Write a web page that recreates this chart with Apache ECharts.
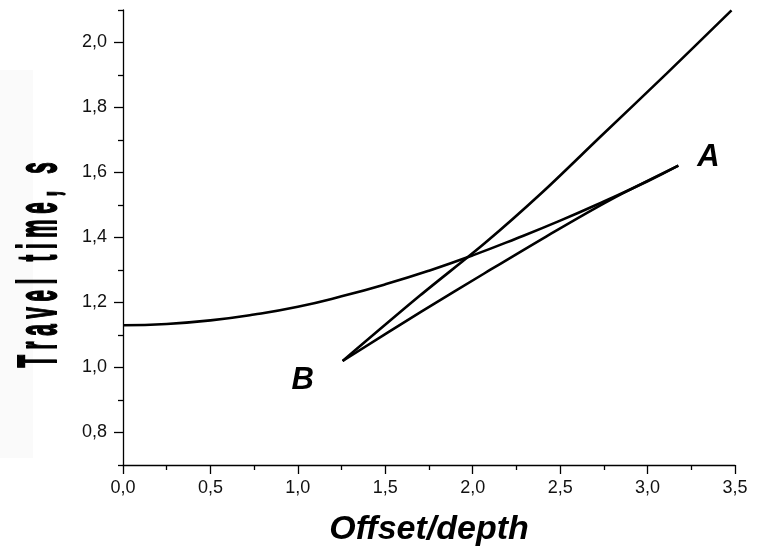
<!DOCTYPE html>
<html>
<head>
<meta charset="utf-8">
<script src="https://cdn.jsdelivr.net/npm/echarts@6/dist/echarts.min.js"></script>
<style>
html,body{margin:0;padding:0;background:#fff;}
#chart{width:763px;height:549px;}
</style>
</head>
<body>
<div id="chart"></div>
<script>
// Tick values and labels
const xTickValues = [0, 0.5, 1.0, 1.5, 2.0, 2.5, 3.0, 3.5];
const xTickLabels = ['0,0', '0,5', '1,0', '1,5', '2,0', '2,5', '3,0', '3,5'];
const yMajorValues = [0.8, 1.0, 1.2, 1.4, 1.6, 1.8, 2.0];
const yMajorLabels = ['0,8', '1,0', '1,2', '1,4', '1,6', '1,8', '2,0'];
const yMinorValues = [0.7, 0.9, 1.1, 1.3, 1.5, 1.7, 1.9, 2.1];

// Hyperbola (reflection travel-time curve)
const hypX = [0, 0.25, 0.5, 0.75, 1.0, 1.25, 1.5, 1.75, 2.0, 2.25, 2.5, 2.75, 3.0, 3.176];
const hypY = [1.130, 1.134, 1.145, 1.163, 1.187, 1.219, 1.256, 1.298, 1.345, 1.397, 1.452, 1.511, 1.573, 1.621];

// Steep line from B to top right
const steepX = [1.256, 1.70, 2.07, 2.40, 2.73, 3.11, 3.48];
const steepY = [1.020, 1.222, 1.383, 1.540, 1.710, 1.905, 2.099];

// Chord from B to A
const chordX = [1.256, 1.706, 2.068, 2.42, 2.785, 3.176];
const chordY = [1.020, 1.172, 1.290, 1.403, 1.515, 1.621];

// Point labels
const pointNames = ['A', 'B'];
const pointX = [3.176, 1.256];
const pointY = [1.621, 1.020];

const zip = (xs, ys) => xs.map((x, i) => [x, ys[i]]);

const FONT = '"Liberation Sans", Arial, sans-serif';

const chart = echarts.init(document.getElementById('chart'));
chart.setOption({
  animation: false,
  backgroundColor: '#fff',
  grid: {left: 123, right: 28, top: 10, bottom: 84, containLabel: false, outerBoundsMode: 'none'},
  xAxis: {
    type: 'value', min: 0, max: 3.5, interval: 0.5,
    axisLine: {show: true, onZero: false, lineStyle: {color: '#000', width: 1.3}},
    axisTick: {show: true, length: 9, lineStyle: {color: '#000', width: 1.3}},
    minorTick: {show: true, splitNumber: 2, length: 5, lineStyle: {color: '#000', width: 1.3}},
    splitLine: {show: false},
    axisLabel: {margin: 14, fontFamily: FONT, fontSize: 18, color: '#111', formatter: v => {
      const i = xTickValues.findIndex(t => Math.abs(t - v) < 1e-6);
      return i >= 0 ? xTickLabels[i] : '';
    }},
    name: 'Offset/depth', nameLocation: 'middle', nameGap: 48,
    nameTextStyle: {fontFamily: FONT, fontSize: 34, fontWeight: 'bold', fontStyle: 'italic', color: '#000'}
  },
  yAxis: [{
    type: 'value', min: 0.7, max: 2.1,
    axisLine: {show: true, onZero: false, lineStyle: {color: '#000', width: 1.3}},
    axisTick: {show: true, length: 9, customValues: yMajorValues, lineStyle: {color: '#000', width: 1.3}},
    splitLine: {show: false},
    axisLabel: {margin: 16, customValues: yMajorValues, fontFamily: FONT, fontSize: 18, color: '#111', formatter: v => {
      const i = yMajorValues.findIndex(t => Math.abs(t - v) < 1e-6);
      return i >= 0 ? yMajorLabels[i] : '';
    }}
  }, {
    type: 'value', min: 0.7, max: 2.1, position: 'left',
    axisLine: {show: false},
    axisTick: {show: true, length: 5, customValues: yMinorValues, lineStyle: {color: '#000', width: 1.3}},
    axisLabel: {show: false},
    splitLine: {show: false}
  }],
  series: [
    {type: 'line', data: zip(hypX, hypY), smooth: true, showSymbol: false, symbol: 'none',
     lineStyle: {color: '#000', width: 2.6}},
    {type: 'line', data: zip(steepX, steepY), smooth: 0.3, showSymbol: false, symbol: 'none',
     lineStyle: {color: '#000', width: 2.6}},
    {type: 'line', data: zip(chordX, chordY), smooth: 0.3, showSymbol: false, symbol: 'none',
     lineStyle: {color: '#000', width: 2.6}},
    {type: 'scatter', symbolSize: 0, silent: true, itemStyle: {opacity: 1},
     data: pointNames.map((n, i) => ({
       value: [pointX[i], pointY[i]], name: n,
       label: {offset: n === 'A' ? [30, -8] : [-40, 19]}
     })),
     label: {show: true, position: 'inside', formatter: p => p.name, opacity: 1,
       fontFamily: FONT, fontSize: 31, fontWeight: 'bold', fontStyle: 'italic', color: '#000',
       textBorderWidth: 0}}
  ],
  graphic: [
    {type: 'rect', z: -10, shape: {x: 0, y: 70, width: 33, height: 388}, style: {fill: '#fafafa'}},
    {type: 'text', x: 41, y: 265, rotation: Math.PI / 2, scaleX: 0.373, scaleY: 1,
     style: {text: 'T r a v e l   t i m e ,   s', font: 'bold 55px "Liberation Sans", Arial, sans-serif',
       fill: '#000', stroke: '#000', lineWidth: 2, align: 'center', verticalAlign: 'middle'}}
  ]
});
</script>
</body>
</html>
